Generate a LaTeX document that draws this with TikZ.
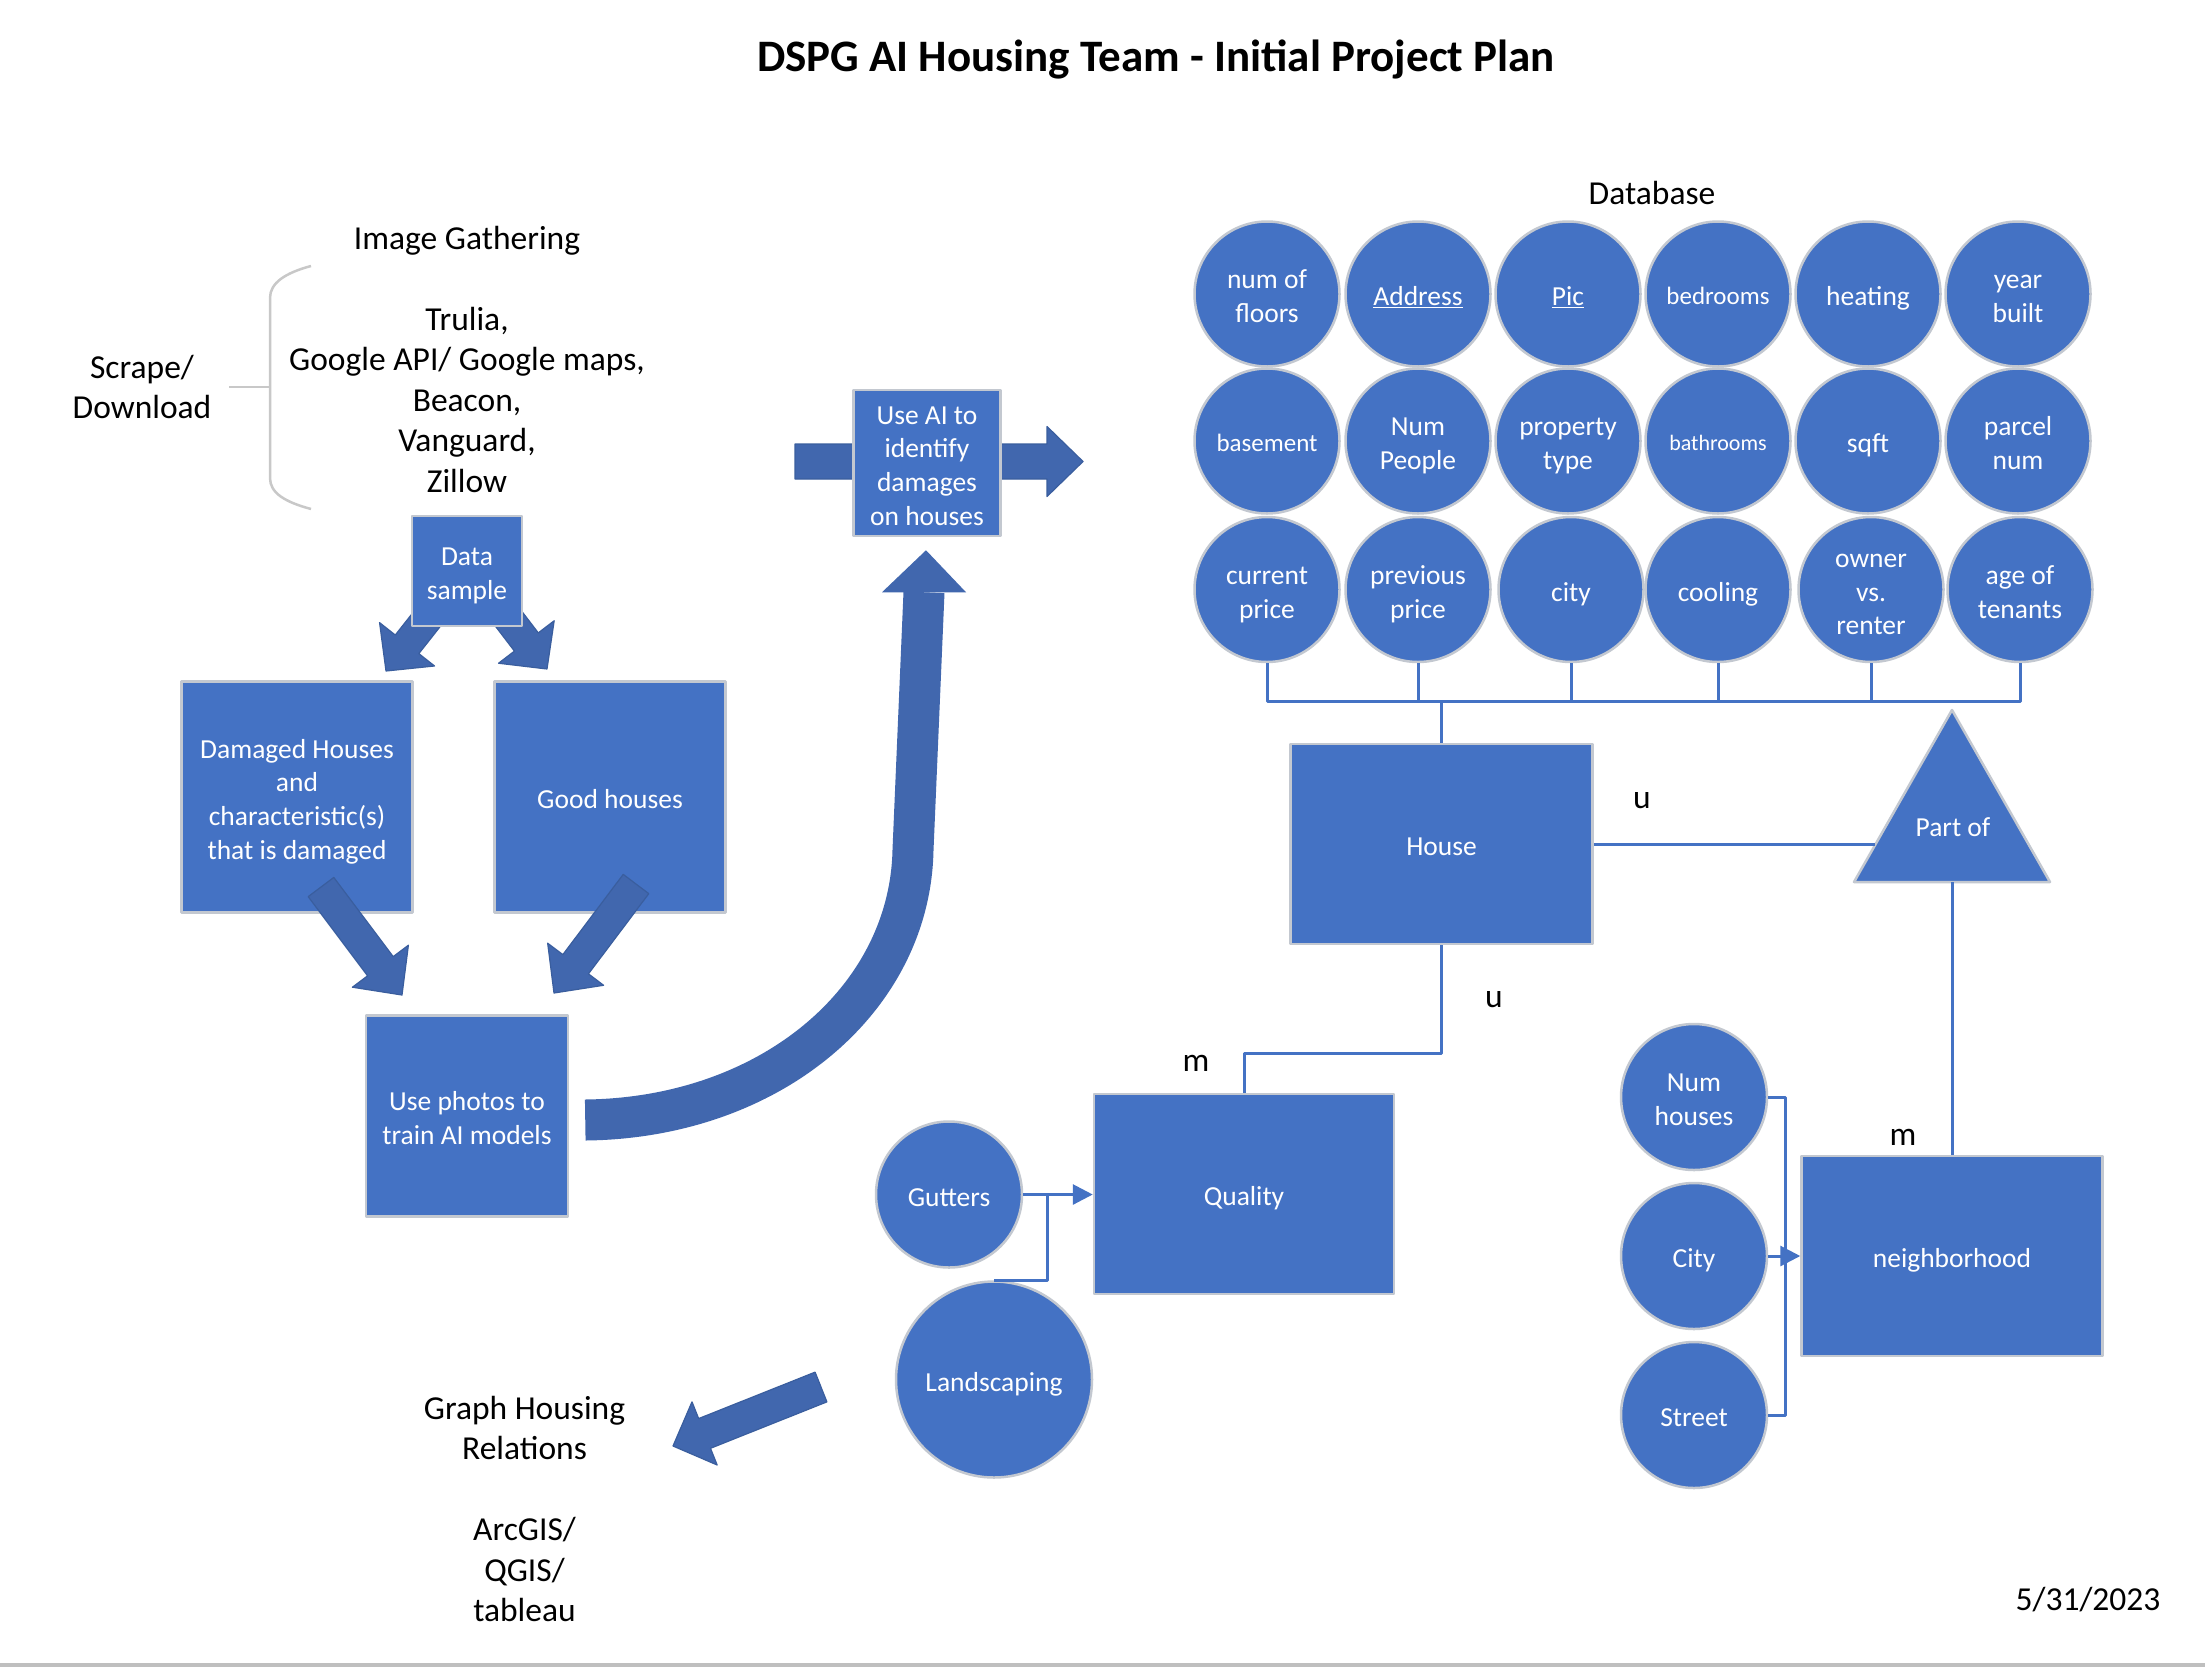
\documentclass[tikz,border=0pt]{standalone}
\usepackage{fontspec}
\setmainfont{Carlito}
\usetikzlibrary{arrows.meta,calc}
\definecolor{boxblue}{HTML}{4472C4}
\definecolor{arrblue}{HTML}{4167AE}
\definecolor{arredge}{HTML}{3A5E9E}
\definecolor{rim}{HTML}{C3C8D0}
\definecolor{bracegray}{HTML}{C8C8C8}
\newcommand{\setfs}[2]{\fontsize{#1}{#2}\selectfont}
\newcommand{\Tst}{\rule{0pt}{0.85em}}
\newcommand{\blockarrow}[5]{%
  \coordinate (ba-H) at ($(#2)!#5!(#1)$);
  \filldraw[blockarr] ($(#1)!#3!90:(#2)$) -- ($(ba-H)!#3!90:(#2)$) -- ($(ba-H)!#4!90:(#2)$) -- (#2) -- ($(ba-H)!#4!-90:(#2)$) -- ($(ba-H)!#3!-90:(#2)$) -- ($(#1)!#3!-90:(#2)$) -- cycle;
}
\tikzset{
  box/.style={draw=rim, line width=2.5pt, fill=boxblue, text=white, align=center, inner sep=0pt, text depth=0pt, font=\setfs{27.5}{33.7}},
  bub/.style={circle, draw=rim, line width=2.5pt, fill=boxblue, text=white, align=center, inner sep=0pt, text depth=0pt, minimum size=145pt, font=\setfs{27.5}{33.7}},
  lab/.style={text=black, align=center, inner sep=0pt, font=\setfs{33.5}{40.5}},
  conn/.style={draw=boxblue, line width=3pt},
  blockarr/.style={fill=arrblue, draw=arredge, line width=1.2pt},
  tipT/.style={-{Triangle[length=20pt,width=20pt]}}
}
\begin{document}
\begin{tikzpicture}[x=1pt,y=-1pt,line join=round]
\useasboundingbox (0,0) rectangle (2205,1668);
\fill[white] (0,0) rectangle (2205,1668);

% title
\node[lab, font=\setfs{45}{54}\bfseries] (title) at (1156,59) {DSPG AI Housing Team - Initial Project Plan};

% image gathering
\node[lab] (scrape) at (142,387) {Scrape/\\Download};
\node[lab] (gather) at (467,359) {Image Gathering\\\mbox{}\\Trulia,\\Google API/ Google maps,\\Beacon,\\Vanguard,\\Zillow};
\draw[bracegray, line width=2.5pt] (311,266) .. controls (285,273) and (270,283) .. (270,298) -- (270,478) .. controls (270,493) and (285,502) .. (311,509);
\draw[bracegray, line width=2.5pt] (270,387) -- (229,387);

% data sample and its arrows
\coordinate (a1t) at (442,600); \coordinate (a1h) at (386,671);
\coordinate (a2t) at (492,597); \coordinate (a2h) at (547,669);
\blockarrow{a1t}{a1h}{15pt}{35pt}{34pt}
\blockarrow{a2t}{a2h}{15pt}{35pt}{34pt}
\node[box, minimum width=110pt, minimum height=110pt] (datas) at (467,571) {\Tst Data\\sample};

\node[box, minimum width=231pt, minimum height=231pt] (damaged) at (297,797) {\Tst Damaged Houses\\and\\characteristic(s)\\that is damaged};
\node[box, minimum width=231pt, minimum height=231pt] (good) at (610,797) {\Tst Good houses};
\node[box, minimum width=202pt, minimum height=201pt] (photos) at (467,1116) {\Tst Use photos to\\train AI models};

\coordinate (a3t) at (321,887); \coordinate (a3h) at (402,995);
\coordinate (a4t) at (636,884); \coordinate (a4h) at (554,993);
\blockarrow{a3t}{a3h}{16pt}{35pt}{36pt}
\blockarrow{a4t}{a4h}{16pt}{35pt}{36pt}

% use AI box and its arrow
\coordinate (a5t) at (795,461.5); \coordinate (a5h) at (1083,461.5);
\blockarrow{a5t}{a5h}{17.5pt}{35pt}{36pt}
\node[box, minimum width=147pt, minimum height=146pt] (ai) at (927,463) {\Tst Use AI to\\identify\\damages\\on houses};

% curved arrow
\coordinate (ctail) at ($(photos.east)+(16,4)$);
\coordinate (chead) at ($(ai.south)+(-1,13)$);
\draw[arrblue, line width=41pt] (ctail) .. controls (770,1118) and (910,1000) .. (913,850) -- ($(chead)+(-2,42)$);
\fill[arrblue] ($(chead)+(-44,42)$) -- ($(chead)+(40,42)$) -- (chead) -- cycle;

% database
\node[lab] (dbt) at (1652,193) {Database};
\node[bub] (c11) at (1267,294) {\Tst num of\\floors};
\node[bub] (c12) at (1418,294) {\Tst\underline{Address}};
\node[bub] (c13) at (1568,294) {\Tst\underline{Pic}};
\node[bub, font=\setfs{25}{30}] (c14) at (1718,294) {\Tst bedrooms};
\node[bub] (c15) at (1868,294) {\Tst heating};
\node[bub] (c16) at (2018,294) {\Tst year\\built};
\node[bub, font=\setfs{25}{30}] (c21) at (1267,441) {\Tst basement};
\node[bub] (c22) at (1418,441) {\Tst Num\\People};
\node[bub] (c23) at (1568,441) {\Tst property\\type};
\node[bub, font=\setfs{22}{27}] (c24) at (1718,441) {\Tst bathrooms};
\node[bub] (c25) at (1868,441) {\Tst sqft};
\node[bub] (c26) at (2018,441) {\Tst parcel\\num};
\node[bub] (c31) at (1267,589.5) {\Tst current\\price};
\node[bub] (c32) at (1418,589.5) {\Tst previous\\price};
\node[bub] (c33) at (1571,589.5) {\Tst city};
\node[bub] (c34) at (1718,589.5) {\Tst cooling};
\node[bub] (c35) at (1871,589.5) {\Tst owner\\vs.\\renter};
\node[bub] (c36) at (2020,589.5) {\Tst age of\\tenants};

\coordinate (busL) at ($(c31.south)+(0,38)$);
\draw[conn] (c31.south) -- (busL) -| (c36.south);
\foreach \k in {c32,c33,c34,c35} \draw[conn] (\k.south) -- (\k.south |- busL);

\node[box, minimum width=302pt, minimum height=200pt] (house) at (1441.5,844) {\Tst House};
\draw[conn] (house.north) -- (house.north |- busL);

% part of
\coordinate (pA) at (1952,710); \coordinate (pL) at (1854,882); \coordinate (pR) at (2050,882);
\filldraw[fill=boxblue, draw=rim, line width=2.5pt] (pA) -- (pR) -- (pL) -- cycle;
\node[text=white, inner sep=0pt, text depth=0pt, font=\setfs{27.5}{33.7}] (partof) at (1953,825) {\Tst Part of};
\coordinate (pofL) at ($(pA)!0.785!(pL)$);
\coordinate (pB) at ($(pL)!0.5!(pR)$);
\draw[conn] (house.east) -- (house.east -| pofL);

\node[box, minimum width=301pt, minimum height=200pt] (nbh) at (1952,1256) {\Tst neighborhood};
\draw[conn] (pB) -- (nbh.north);

\node[box, minimum width=300pt, minimum height=200pt] (quality) at (1244,1194) {\Tst Quality};
\draw[conn] (house.south) |- ($(quality.north)+(0,-39)$) -- (quality.north);

\node[lab] (u1) at (1642,801) {u};
\node[lab] (u2) at (1494,1000) {u};
\node[lab] (m1) at (1196,1063) {m};
\node[lab] (m2) at (1903,1137) {m};

% quality attributes
\node[bub, minimum size=146pt] (gut) at (949,1194.5) {\Tst Gutters};
\node[bub, minimum size=196pt] (land) at (994,1379.5) {\Tst Landscaping};
\draw[conn, tipT] (gut.east) -- (gut.east -| quality.west);
\coordinate (gj) at ($(gut.east)!0.35!(quality.west)$);
\draw[conn] (land.north) -| (gj);

% neighborhood attributes
\node[bub, minimum size=146pt] (numh) at (1694,1097) {\Tst Num\\houses};
\node[bub, minimum size=146pt] (cityn) at (1694,1256) {\Tst City};
\node[bub, minimum size=146pt] (street) at (1694,1415) {\Tst Street};
\coordinate (nbus) at ($(cityn.east)!0.55!(nbh.west)$);
\draw[conn] (numh.east) -| (nbus);
\draw[conn] (street.east) -| (nbus);
\draw[conn, tipT] (cityn.east) -- (nbh.west);

% graph housing
\coordinate (a6t) at (821,1387); \coordinate (a6h) at (673,1446);
\blockarrow{a6t}{a6h}{16pt}{34pt}{34pt}
\node[lab] (graph) at (524.5,1509) {Graph Housing\\Relations\\\mbox{}\\ArcGIS/\\QGIS/\\tableau};

\node[lab] (date) at (2088,1600) {5/31/2023};
\draw[line width=4pt, color=black!25] (0,1665) -- (2205,1665);
\end{tikzpicture}
\end{document}
